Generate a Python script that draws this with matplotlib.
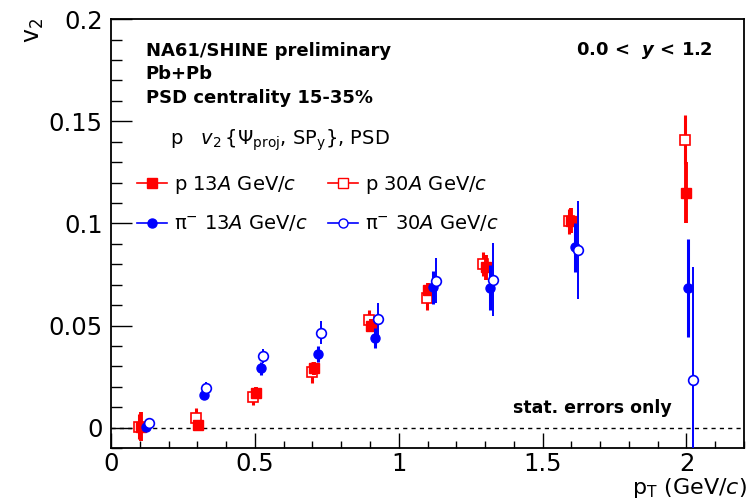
import matplotlib
matplotlib.use("Agg")
import matplotlib.pyplot as plt
from matplotlib.lines import Line2D
from matplotlib.ticker import MultipleLocator

plt.rcParams['font.family'] = ['DejaVu Sans']
plt.rcParams['mathtext.fontset'] = 'dejavusans'

# ---- data ----
p13_x = [0.105, 0.302, 0.505, 0.705, 0.905, 1.103, 1.303, 1.600, 2.000]
p13_v = [0.0005, 0.0012, 0.0170, 0.0290, 0.0500, 0.0676, 0.0785, 0.1014, 0.1150]
p13_e = [0.0070, 0.0020, 0.0030, 0.0030, 0.0030, 0.0030, 0.0060, 0.0060, 0.0150]

p30_x = [0.098, 0.296, 0.493, 0.697, 0.895, 1.097, 1.293, 1.593, 1.995]
p30_v = [0.0005, 0.0045, 0.0150, 0.0270, 0.0525, 0.0637, 0.0800, 0.1010, 0.1410]
p30_e = [0.0060, 0.0050, 0.0040, 0.0050, 0.0050, 0.0060, 0.0060, 0.0060, 0.0120]

pim13_x = [0.123, 0.324, 0.520, 0.720, 0.918, 1.120, 1.318, 1.614, 2.007]
pim13_v = [0.0005, 0.0160, 0.0290, 0.0360, 0.0440, 0.0687, 0.0686, 0.0882, 0.0683]
pim13_e = [0.0020, 0.0020, 0.0030, 0.0040, 0.0050, 0.0080, 0.0110, 0.0120, 0.0240]

pim30_x = [0.131, 0.331, 0.528, 0.730, 0.927, 1.128, 1.327, 1.624, 2.024]
pim30_v = [0.0025, 0.0196, 0.0350, 0.0465, 0.0530, 0.0720, 0.0725, 0.0868, 0.0235]
pim30_e = [0.0020, 0.0025, 0.0035, 0.0055, 0.0080, 0.0110, 0.0180, 0.0240, 0.0550]

lbl_p13 = r"p 13$A$ GeV/$c$"
lbl_p30 = r"p 30$A$ GeV/$c$"
lbl_pim13 = r"π$^{-}$ 13$A$ GeV/$c$"
lbl_pim30 = r"π$^{-}$ 30$A$ GeV/$c$"

RED = '#ff0000'
BLUE = '#0000ff'

fig = plt.figure(figsize=(7.5, 5.04), dpi=100)
ax = fig.add_axes([0.148, 0.111, 0.844, 0.851])

ax.axhline(0, color='black', lw=1.0, ls=(0, (3, 3)), zorder=1)

ax.errorbar(p30_x, p30_v, yerr=p30_e, fmt='s', ms=7.5, mfc='white', mec=RED,
            mew=1.2, ecolor=RED, elinewidth=2.2, capsize=0, zorder=3)
ax.errorbar(p13_x, p13_v, yerr=p13_e, fmt='s', ms=7, mfc=RED, mec=RED,
            ecolor=RED, elinewidth=2.8, capsize=0, zorder=4)
ax.errorbar(pim13_x, pim13_v, yerr=pim13_e, fmt='o', ms=6.5, mfc=BLUE, mec=BLUE,
            ecolor=BLUE, elinewidth=2.2, capsize=0, zorder=5)
ax.errorbar(pim30_x, pim30_v, yerr=pim30_e, fmt='o', ms=7, mfc='white', mec=BLUE,
            mew=1.2, ecolor=BLUE, elinewidth=1.4, capsize=0, zorder=6)

ax.set_xlim(0, 2.2)
ax.set_ylim(-0.01, 0.2)

ax.xaxis.set_minor_locator(MultipleLocator(0.1))
ax.yaxis.set_minor_locator(MultipleLocator(0.01))
ax.set_xticks([0, 0.5, 1, 1.5, 2])
ax.set_xticklabels(['0', '0.5', '1', '1.5', '2'])
ax.set_yticks([0, 0.05, 0.1, 0.15, 0.2])
ax.set_yticklabels(['0', '0.05', '0.1', '0.15', '0.2'])

ax.tick_params(axis='both', which='both', direction='in', top=False, right=False,
               labelsize=17.5, width=1.0)
ax.tick_params(axis='y', which='major', length=15, pad=6)
ax.tick_params(axis='y', which='minor', length=8)
ax.tick_params(axis='x', which='major', length=11, pad=3)
ax.tick_params(axis='x', which='minor', length=5)
for s in ax.spines.values():
    s.set_linewidth(1.3)

# texts
ax.text(0.055, 0.925, "NA61/SHINE preliminary", transform=ax.transAxes,
        fontsize=13, fontweight='bold', va='center', ha='left')
ax.text(0.055, 0.872, "Pb+Pb", transform=ax.transAxes,
        fontsize=13, fontweight='bold', va='center', ha='left')
ax.text(0.055, 0.816, "PSD centrality 15-35%", transform=ax.transAxes,
        fontsize=13, fontweight='bold', va='center', ha='left')
ax.text(0.951, 0.928, r"0.0 <  $\boldsymbol{y}$ < 1.2", transform=ax.transAxes,
        fontsize=13, fontweight='bold', va='center', ha='right')
ax.text(0.886, 0.093, "stat. errors only", transform=ax.transAxes,
        fontsize=12.5, fontweight='bold', va='center', ha='right')
ax.text(0.093, 0.718, r"p   $v_2\,\{\Psi_{\mathrm{proj}}$, SP$_{\mathrm{y}}\}$, PSD",
        transform=ax.transAxes, fontsize=14, va='center', ha='left')

h_p13 = Line2D([], [], color=RED, lw=1.2, marker='s', ms=7, mfc=RED, mec=RED)
h_p30 = Line2D([], [], color=RED, lw=1.2, marker='s', ms=7, mfc='white', mec=RED)
h_pim13 = Line2D([], [], color=BLUE, lw=1.2, marker='o', ms=6.5, mfc=BLUE, mec=BLUE)
h_pim30 = Line2D([], [], color=BLUE, lw=1.2, marker='o', ms=6.5, mfc='white', mec=BLUE)
# column-major order so rows read: p13 | p30 ; pi13 | pi30
ax.legend([h_p13, h_pim13, h_p30, h_pim30],
          [lbl_p13, lbl_pim13, lbl_p30, lbl_pim30],
          ncol=2, loc='upper left', bbox_to_anchor=(0.041, 0.639),
          frameon=False, fontsize=14, handlelength=1.55, handletextpad=0.35,
          columnspacing=1.05, labelspacing=0.9, borderpad=0, borderaxespad=0)

fig.text(0.045, 0.94, r"$\mathregular{v_2}$", rotation=90, fontsize=17,
         ha='center', va='center')
fig.text(0.996, 0.032, r"p$_{\mathregular{T}}$ (GeV/$c$)", fontsize=16,
         ha='right', va='center')

fig.savefig("out.png", dpi=100)
